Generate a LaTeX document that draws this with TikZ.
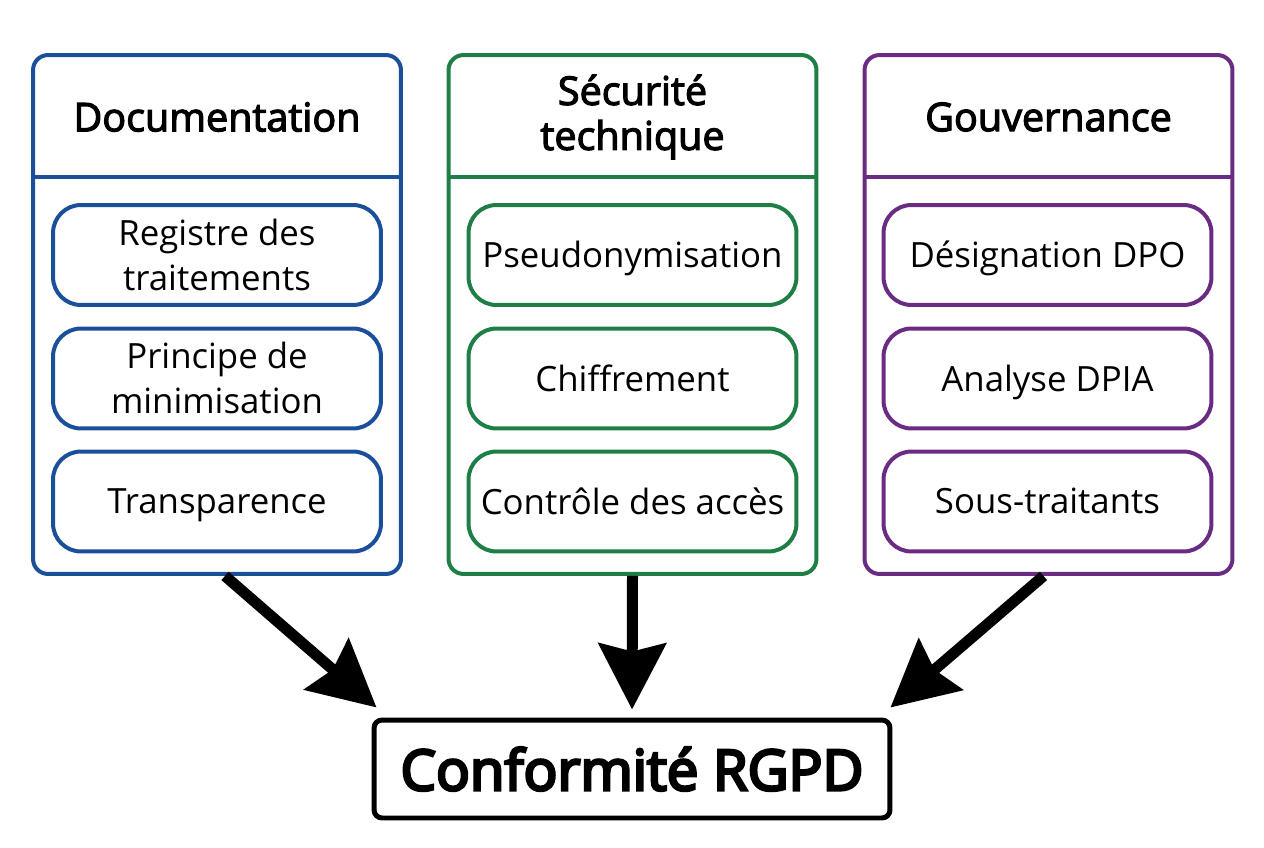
\documentclass[tikz,border=0pt]{standalone}
\usepackage{fontspec}
\setmainfont{Open Sans}
\newfontfamily\headfont[FakeBold=3]{Open Sans}
\newfontfamily\resultfont[FakeBold=5]{Open Sans}
\usepackage{tikz}
\usetikzlibrary{arrows.meta,positioning}
\definecolor{docblue}{HTML}{1B4F99}
\definecolor{secgreen}{HTML}{1E7E45}
\definecolor{govpurple}{HTML}{6A2C82}
\begin{document}
\begin{tikzpicture}[x=0.02cm,y=-0.02cm,
  frame/.style={draw=#1,line width=0.08cm,rounded corners=0.3cm,minimum width=7.36cm,minimum height=10.38cm},
  head/.style={font=\headfont\fontsize{22.5}{25.6}\selectfont,align=center},
  item/.style={draw=#1,line width=0.08cm,rounded corners=0.56cm,minimum width=6.56cm,minimum height=2cm,
    align=center,text depth=0.07em,font=\fontsize{19.8}{25.6}\selectfont},
  bigarrow/.style={line width=0.22cm,-{Stealth[length=1.32cm,width=1.34cm,inset=0.16cm]}}]
\useasboundingbox (0,0) rectangle (1264,848);
% the three pillars
\node[frame=docblue] (doc) at (217,314.5) {};
\node[frame=secgreen] (sec) at (632.5,314.5) {};
\node[frame=govpurple] (gov) at (1048.5,314.5) {};
\draw[docblue,line width=0.08cm] (doc.west |- 0,177) -- (doc.east |- 0,177);
\draw[secgreen,line width=0.08cm] (sec.west |- 0,177) -- (sec.east |- 0,177);
\draw[govpurple,line width=0.08cm] (gov.west |- 0,177) -- (gov.east |- 0,177);
\node[head] (dochead) at (217,117) {Documentation};
\node[head] (sechead) at (632.5,117) {Sécurité\\technique};
\node[head] (govhead) at (1048.5,117) {Gouvernance};
% measures
\node[item=docblue] (reg) at (217,255) {Registre des\\traitements};
\node[item=docblue] (mini) at (217,378.5) {Principe de\\minimisation};
\node[item=docblue] (trans) at (217,501.5) {Transparence};
\node[item=secgreen] (pseudo) at (632.5,255) {Pseudonymisation};
\node[item=secgreen] (chiff) at (632.5,378.5) {Chiffrement};
\node[item=secgreen] (acces) at (632.5,501.5) {Contrôle des accès};
\node[item=govpurple] (dpo) at (1047.5,255) {Désignation DPO};
\node[item=govpurple] (dpia) at (1047.5,378.5) {Analyse DPIA};
\node[item=govpurple] (sous) at (1047.5,501.5) {Sous-traitants};
% result
\node[draw,line width=0.1cm,rounded corners=0.16cm,minimum width=10.32cm,minimum height=1.96cm,
  font=\resultfont\fontsize{32}{40}\selectfont] (conf) at (632,769) {Conformité RGPD};
\draw[bigarrow] ([xshift=0.16cm]doc.south) -- ([shift={(0.1cm,0.2cm)}]conf.north west);
\draw[bigarrow,shorten >=0.16cm] (sec.south) -- (conf.north);
\draw[bigarrow] ([xshift=-0.1cm]gov.south) -- ([shift={(-0.04cm,0.2cm)}]conf.north east);
\end{tikzpicture}
\end{document}
